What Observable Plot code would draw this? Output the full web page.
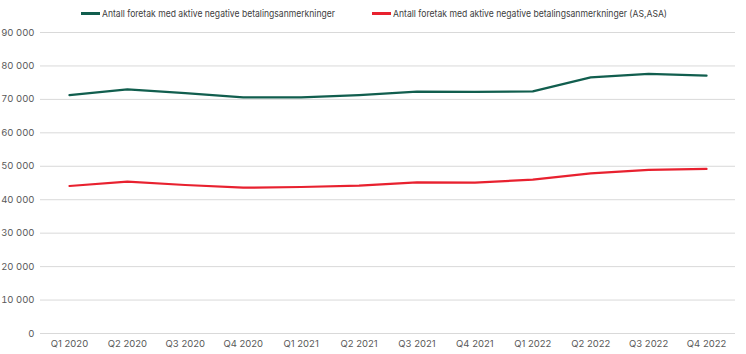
<!DOCTYPE html>
<html>
<head>
<meta charset="utf-8">
<script src="https://cdn.jsdelivr.net/npm/d3@7"></script>
<script src="https://cdn.jsdelivr.net/npm/@observablehq/plot@0.6"></script>
<style>
  body { margin: 0; background: #fff; font-family: Inter, "Noto Sans", sans-serif; }
  #legend { height: 24px; position: relative; font-size: 9.5px; color: #404040; }
  .item { position: absolute; top: 8px; display: flex; align-items: center; white-space: nowrap; }
  .sw { width: 19px; height: 3px; margin-right: 2px; flex: none; }
  .lbl { display: inline-block; transform-origin: left center; }
</style>
</head>
<body>
<div id="legend"></div>
<div id="chart"></div>
<script>
const quarters = ["Q1 2020","Q2 2020","Q3 2020","Q4 2020","Q1 2021","Q2 2021","Q3 2021","Q4 2021","Q1 2022","Q2 2022","Q3 2022","Q4 2022"];
const seriesNames = ["Antall foretak med aktive negative betalingsanmerkninger", "Antall foretak med aktive negative betalingsanmerkninger (AS,ASA)"];
const allFirms = [71300, 73000, 71900, 70600, 70600, 71300, 72300, 72250, 72400, 76600, 77600, 77100];
const asAsaFirms = [44100, 45400, 44400, 43600, 43800, 44200, 45200, 45100, 46000, 47900, 48900, 49200];
const yTicks = [0, 10000, 20000, 30000, 40000, 50000, 60000, 70000, 80000, 90000];
const colors = ["#115e4e", "#e8212f"];

const data = [
  ...quarters.map((q, i) => ({q, v: allFirms[i], s: seriesNames[0]})),
  ...quarters.map((q, i) => ({q, v: asAsaFirms[i], s: seriesNames[1]}))
];

const legend = document.getElementById("legend");
const legendX = [81, 372];
const legendW = [233, 274];
seriesNames.forEach((n, i) => {
  const d = document.createElement("div");
  d.className = "item";
  d.style.left = legendX[i] + "px";
  d.innerHTML = `<span class="sw" style="background:${colors[i]}"></span><span class="lbl">${n}</span>`;
  legend.appendChild(d);
  const lbl = d.querySelector(".lbl");
  const w = lbl.getBoundingClientRect().width;
  if (w > 0) lbl.style.transform = `scaleX(${legendW[i] / w})`;
});

const fmt = d => d3.format(",")(d).replace(/,/g, " ");

const chart = Plot.plot({
  width: 746,
  height: 330,
  marginTop: 8,
  marginBottom: 21,
  marginLeft: 40,
  marginRight: 11,
  style: { fontFamily: "Inter, 'Noto Sans', sans-serif", fontSize: "9.5px", color: "#595959" },
  x: { type: "band", domain: quarters, padding: 0, round: false, label: null, tickSize: 0, tickPadding: 7 },
  y: { domain: [0, 90000], ticks: yTicks, tickFormat: fmt, label: null, tickSize: 0, tickPadding: 6 },
  color: { domain: seriesNames, range: colors },
  marks: [
    Plot.gridY(yTicks, { stroke: "#d9d9d9", strokeOpacity: 1, strokeWidth: 1 }),
    Plot.line(data, { x: "q", y: "v", z: "s", stroke: "s", strokeWidth: 2.2 })
  ]
});
document.getElementById("chart").appendChild(chart);
</script>
</body>
</html>
